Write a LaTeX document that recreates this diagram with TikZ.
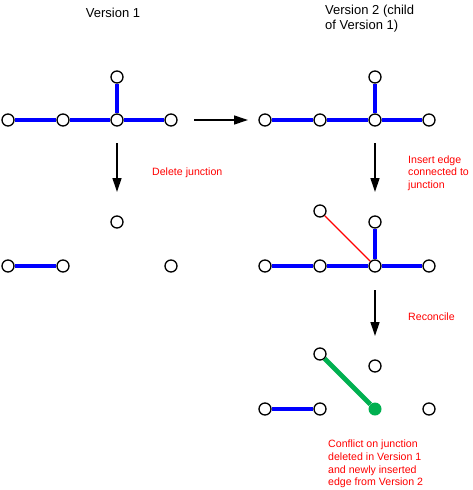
\documentclass[tikz,border=0pt]{standalone}
\usepackage{fontspec}
\setmainfont{Liberation Sans}
\usetikzlibrary{arrows.meta}
\definecolor{okgreen}{RGB}{0,176,80}

\begin{document}
\begin{tikzpicture}[x=1pt, y=-1pt, >={Triangle[length=14pt,width=9pt]},
  pt/.style={circle, draw, fill=white, line width=1.3pt, minimum size=12pt, inner sep=0pt},
  hit/.style={circle, fill=okgreen, minimum size=13pt, inner sep=0pt},
  link/.style={blue, line width=3.2pt},
  flow/.style={->, line width=1.3pt},
  note/.style={red, font=\fontsize{10.6}{12.6}\selectfont, align=left, anchor=west, inner sep=0pt},
  title/.style={font=\fontsize{13}{14.5}\selectfont, align=left, inner sep=0pt}]
  \useasboundingbox (0,0) rectangle (472,490);

  % titles
  \node[title] (h1) at (113,13) {Version 1};
  \node[title, anchor=north west] (h2) at (325,5) {Version 2 (child\\of Version 1)};

  % version 1
  \foreach \n/\x in {1/8,2/63,3/117,4/171} \node[pt] (a\n) at (\x,120) {};
  \node[pt] (a5) at (117,77) {};
  \draw[link] (a1) -- (a2) -- (a3) -- (a4) (a3) -- (a5);

  % version 2
  \foreach \n/\x in {1/265,2/320,3/375,4/429} \node[pt] (b\n) at (\x,120) {};
  \node[pt] (b5) at (375,77) {};
  \draw[link] (b1) -- (b2) -- (b3) -- (b4) (b3) -- (b5);

  % junction deleted
  \node[pt] (c1) at (8,266) {};
  \node[pt] (c2) at (63,266) {};
  \node[pt] (c4) at (171,266) {};
  \node[pt] (c5) at (117,222) {};
  \draw[link] (c1) -- (c2);

  % edge inserted
  \foreach \n/\x in {1/265,2/320,3/375,4/429} \node[pt] (d\n) at (\x,266) {};
  \node[pt] (d5) at (375,222) {};
  \node[pt] (d6) at (320,211) {};
  \draw[link] (d1) -- (d2) -- (d3) -- (d4) (d3) -- (d5);
  \draw[red, line width=1.1pt] (d6) -- (d3);

  % reconciled
  \node[pt] (e1) at (265,409) {};
  \node[pt] (e2) at (320,409) {};
  \node[hit] (e3) at (375,409) {};
  \node[pt] (e4) at (429,409) {};
  \node[pt] (e5) at (375,366) {};
  \node[pt] (e6) at (320,354) {};
  \draw[link] (e1) -- (e2);
  \draw[okgreen, line width=4.8pt] (e6) -- (e3);

  % arrows
  \coordinate (s1) at (194,120); \coordinate (t1) at (248,120);
  \coordinate (s2) at (117,143); \coordinate (t2) at (117,192);
  \coordinate (s3) at (375,143); \coordinate (t3) at (375,192);
  \coordinate (s4) at (375,290); \coordinate (t4) at (375,336);
  \draw[flow] (s1) -- (t1);
  \draw[flow] (s2) -- (t2);
  \draw[flow] (s3) -- (t3);
  \draw[flow] (s4) -- (t4);

  % notes
  \node[note] (n1) at (152,173) {Delete junction};
  \node[note] (n2) at (408,173) {Insert edge\\connected to\\junction};
  \node[note] (n3) at (408,317) {Reconcile};
  \node[note] (n4) at (328,464) {Conflict on junction\\deleted in Version 1\\and newly inserted\\edge from Version 2};
\end{tikzpicture}
\end{document}
